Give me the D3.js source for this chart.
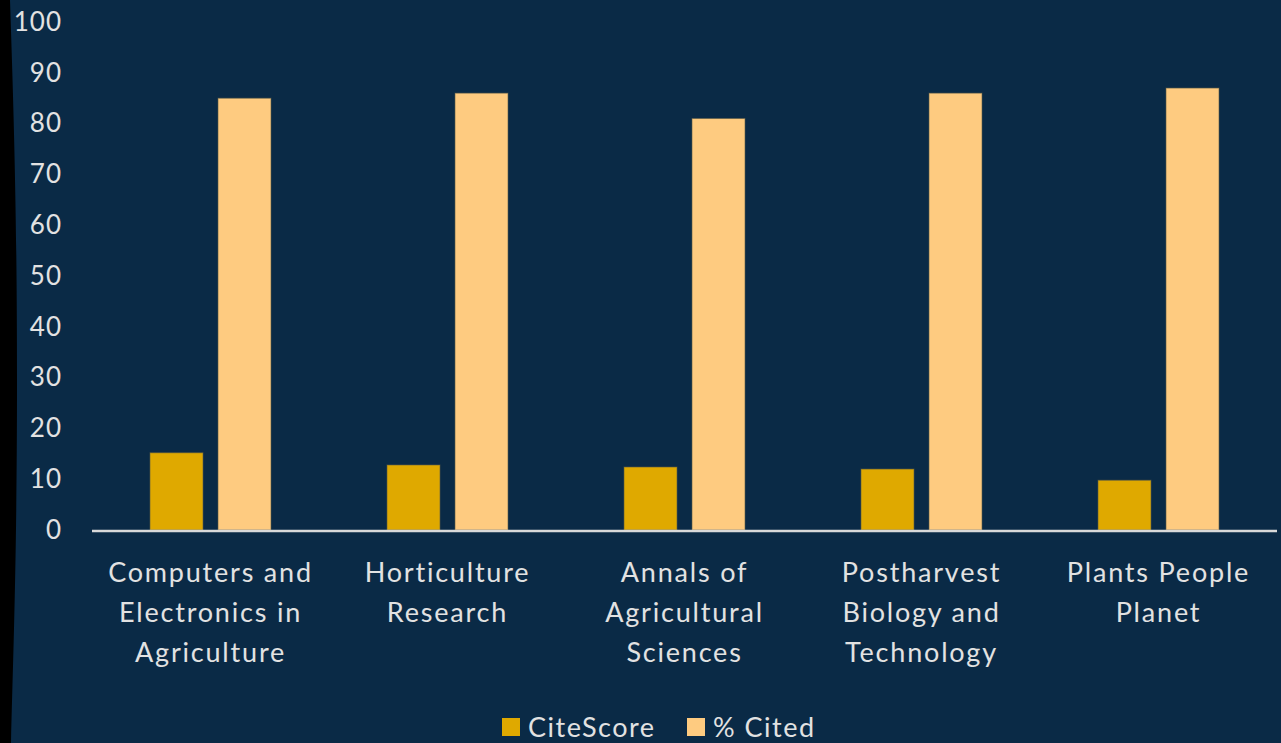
<!DOCTYPE html>
<html>
<head>
<meta charset="utf-8">
<script src="https://cdn.jsdelivr.net/npm/d3@7"></script>
<style>
  html, body { margin: 0; padding: 0; background: #000; }
  svg { display: block; }
  text { font-family: Lato, "Open Sans", sans-serif; fill: #e2e2e2; }
</style>
</head>
<body>
<svg id="chart" width="1281" height="743"></svg>
<script>
// journals on the x axis, split into lines the way the labels wrap
var journals = ['Computers and Electronics in Agriculture', 'Horticulture Research',
    'Annals of Agricultural Sciences', 'Postharvest Biology and Technology', 'Plants People Planet'];
var journalLines = [
    ['Computers and', 'Electronics in', 'Agriculture'],
    ['Horticulture', 'Research'],
    ['Annals of', 'Agricultural', 'Sciences'],
    ['Postharvest', 'Biology and', 'Technology'],
    ['Plants People', 'Planet']
];
var seriesNames = ['CiteScore', '% Cited'];
var citeScore = [15.2, 12.8, 12.4, 12.0, 9.8];
var pctCited = [85, 86, 81, 86, 87];
var yTicks = [0, 10, 20, 30, 40, 50, 60, 70, 80, 90, 100];

var colors = {'CiteScore': '#dfa900', '% Cited': '#fecb80'};

var svg = d3.select('#chart');

// background panel with the dark curved strip on the left
svg.append('rect').attr('width', 1281).attr('height', 743).attr('fill', '#000');
svg.append('path')
    .attr('d', 'M10,0 C14,120 17,220 17,380 C17,560 13,660 11,743 L1281,743 L1281,0 Z')
    .attr('fill', '#0a2a46');

var x0 = d3.scaleBand().domain(journals).range([92, 1277]);
var groupWidth = 121;
var x1 = d3.scaleBand().domain(seriesNames).range([0, groupWidth]).paddingInner(0.2206);
var y = d3.scaleLinear().domain([0, 100]).range([530, 22]);

// y tick labels (no axis line in the original)
var yAxis = svg.append('g')
    .attr('transform', 'translate(62,0)')
    .call(d3.axisLeft(y).tickValues(yTicks).tickSize(0).tickPadding(0));
yAxis.select('.domain').remove();
yAxis.selectAll('text')
    .attr('fill', '#e2e2e2')
    .style('font-size', '26px')
    .style('letter-spacing', '1px')
    .style('font-family', 'Lato, "Open Sans", sans-serif');

var rows = journals.map(function(j, i) {
    return {journal: j, values: [
        {key: 'CiteScore', value: citeScore[i]},
        {key: '% Cited', value: pctCited[i]}
    ]};
});

var groups = svg.selectAll('.group')
    .data(rows)
    .enter().append('g')
    .attr('class', 'group')
    .attr('transform', function(d) {
        return 'translate(' + (x0(d.journal) + (x0.bandwidth() - groupWidth) / 2) + ',0)';
    });

groups.selectAll('rect')
    .data(function(d) { return d.values; })
    .enter().append('rect')
    .attr('x', function(d) { return x1(d.key); })
    .attr('y', function(d) { return y(d.value); })
    .attr('width', x1.bandwidth())
    .attr('height', function(d) { return y(0) - y(d.value); })
    .attr('fill', function(d) { return colors[d.key]; })
    .attr('stroke', 'rgba(90,90,70,0.6)')
    .attr('stroke-width', 1);

// baseline
svg.append('line')
    .attr('x1', 92).attr('x2', 1277)
    .attr('y1', y(0) + 1).attr('y2', y(0) + 1)
    .attr('stroke', '#d9d9d9').attr('stroke-width', 2.5);

// category labels
var labels = svg.selectAll('.cat-label')
    .data(journals)
    .enter().append('text')
    .attr('class', 'cat-label')
    .attr('text-anchor', 'middle')
    .style('font-size', '27px')
    .style('letter-spacing', '1.8px')
    .attr('transform', function(d) {
        return 'translate(' + (x0(d) + x0.bandwidth() / 2) + ',582)';
    });
labels.selectAll('tspan')
    .data(function(d, i) { return journalLines[i]; })
    .enter().append('tspan')
    .attr('x', 0)
    .attr('y', function(d, i) { return i * 40; })
    .text(function(d) { return d; });

// legend
var legend = svg.append('g').attr('transform', 'translate(502,727)');
var legendX = [0, 185];
seriesNames.forEach(function(s, i) {
    var item = legend.append('g').attr('transform', 'translate(' + legendX[i] + ',0)');
    item.append('rect')
        .attr('x', 0).attr('y', -9).attr('width', 18).attr('height', 18)
        .attr('fill', colors[s]);
    item.append('text')
        .attr('x', 26).attr('y', 10)
        .style('font-size', '27px')
        .style('letter-spacing', '1.5px')
        .text(s);
});
</script>
</body>
</html>
